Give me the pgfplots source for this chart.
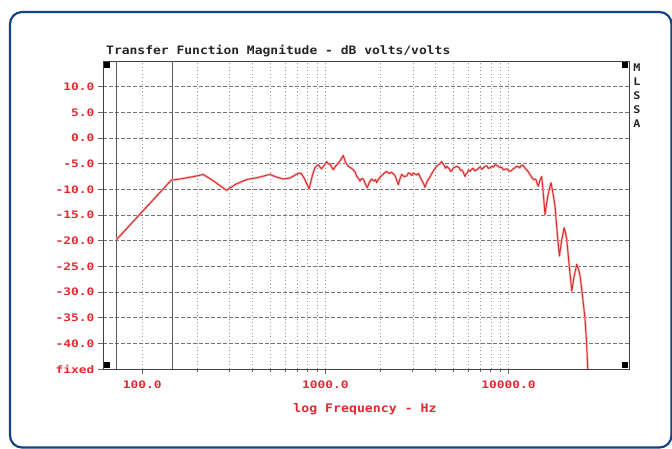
\documentclass[border=0pt]{standalone}
\usepackage{pgfplots}
\pgfplotsset{compat=1.18}
\usepackage{fontspec}
\setmainfont{DejaVu Sans Mono}
\newfontfamily\monofont[FakeStretch=1.12]{DejaVu Sans Mono}
\newfontfamily\tickfont[FakeStretch=1.25]{DejaVu Sans Mono}
\definecolor{frameblue}{RGB}{22,66,128}
\definecolor{lblred}{RGB}{228,40,48}
\definecolor{curvered}{RGB}{216,46,46}
\definecolor{halo}{RGB}{248,190,190}
\pgfplotstableread{
f db
72.3 -19.8
144 -8.2
160 -8.0
198 -7.4
215 -7.1
246 -8.4
288 -10.2
324 -9.0
371 -8.1
428 -7.7
497 -7.1
540 -7.6
588 -8.0
640 -7.8
700 -7.0
735 -6.8
770 -8.0
815 -9.9
850 -7.2
876 -5.8
914 -5.2
935 -5.7
953 -6.0
985 -5.3
1016 -4.6
1040 -5.1
1059 -5.0
1080 -5.6
1104 -6.2
1140 -5.4
1170 -5.0
1210 -4.3
1251 -3.4
1290 -4.8
1333 -5.5
1375 -5.8
1419 -6.2
1450 -6.6
1480 -7.4
1510 -7.8
1545 -8.4
1575 -7.9
1610 -8.0
1650 -8.9
1692 -9.7
1740 -8.6
1788 -8.0
1840 -8.4
1880 -8.1
1905 -8.7
1960 -7.9
2028 -7.3
2090 -6.9
2160 -6.5
2230 -6.9
2300 -6.7
2350 -7.0
2397 -7.3
2450 -8.2
2500 -9.1
2550 -8.0
2608 -7.1
2690 -7.5
2778 -7.4
2840 -6.8
2900 -6.9
2960 -7.3
3020 -6.8
3080 -7.0
3150 -7.2
3220 -6.9
3283 -7.5
3340 -8.1
3400 -8.6
3450 -9.0
3499 -9.6
3600 -8.4
3724 -7.6
3800 -7.0
3900 -6.3
4053 -5.5
4180 -5.1
4315 -4.6
4380 -5.0
4450 -5.3
4520 -5.9
4596 -5.5
4680 -5.8
4750 -6.0
4820 -6.5
4893 -6.4
4980 -5.9
5090 -5.7
5209 -5.5
5380 -5.8
5460 -6.3
5547 -6.2
5650 -6.6
5785 -7.5
5860 -7.0
5950 -6.8
6050 -6.2
6160 -6.5
6280 -6.1
6400 -5.9
6540 -6.4
6700 -6.2
6850 -5.9
7000 -5.6
7140 -6.1
7284 -5.8
7440 -5.5
7600 -5.4
7760 -5.9
7924 -5.8
8100 -5.5
8270 -5.7
8437 -5.2
8600 -5.3
8790 -5.5
9000 -5.8
9180 -5.7
9370 -6.2
9750 -6.0
10190 -6.5
10400 -6.3
10600 -6.0
10850 -5.8
11080 -5.5
11300 -5.6
11500 -5.8
11750 -5.3
12040 -5.4
12400 -6.0
12830 -6.6
13250 -7.4
13670 -8.1
14100 -8.0
14300 -8.8
14550 -9.4
14850 -8.2
15180 -7.5
15500 -11.0
15820 -14.9
16400 -11.2
17060 -8.7
17500 -10.8
17950 -13.3
18400 -18.0
18960 -23.0
19500 -20.0
20110 -17.5
20400 -18.2
20800 -19.8
21400 -24.5
22150 -29.8
22800 -27.0
23590 -24.6
24100 -25.5
24600 -26.9
25400 -31.0
26180 -35.3
26700 -40.0
27090 -45.0
}\curvedata
\begin{document}
\begin{tikzpicture}[x=1pt,y=1pt]
\useasboundingbox (0,0) rectangle (672,449);
\fill[white] (0,0) rectangle (672,449);
\draw[frameblue, line width=2.2pt, rounded corners=12pt] (10,437) rectangle (671.5,1.5);
\begin{axis}[
  at={(103pt,80pt)}, anchor=south west,
  width=526pt, height=308pt, scale only axis,
  xmode=log, xmin=61, xmax=45500,
  ymin=-45, ymax=15,
  axis line style={black!75, line width=0.8pt},
  tick align=outside, tick pos=left,
  major tick length=5pt, minor tick length=3pt,
  every tick/.style={black!60, line width=0.6pt},
  xtick={100,1000,10000},
  xticklabels={100.0,1000.0,10000.0},
  ytick={-45,-40,-35,-30,-25,-20,-15,-10,-5,0,5,10},
  yticklabels={fixed,-40.0,-35.0,-30.0,-25.0,-20.0,-15.0,-10.0,-5.0,0.0,5.0,10.0},
  ticklabel style={font=\tickfont\bfseries\fontsize{10.3}{12}\selectfont, text=lblred},
  xticklabel style={yshift=-3pt},
  /pgf/number format/assume math mode=true,
  xmajorgrids, xminorgrids, ymajorgrids,
  major x grid style={black!40, line width=0.5pt, dash pattern=on 1pt off 2.5pt},
  minor x grid style={black!40, line width=0.5pt, dash pattern=on 1pt off 2.5pt},
  major y grid style={black!55, line width=0.6pt, dash pattern=on 4pt off 2pt},
  clip=true,
]
\addplot[black!65, line width=0.7pt, forget plot] coordinates {(72.5,-45) (72.5,15)};
\addplot[black!65, line width=0.7pt, forget plot] coordinates {(145,-45) (145,15)};
\addplot[halo, line width=2.4pt, line join=round] table[x=f, y=db] {\curvedata};
\addplot[curvered, line width=1pt, line join=round] table[x=f, y=db] {\curvedata};
\fill[black] (rel axis cs:0,1) ++(1pt,-1pt) rectangle ++(6pt,-6pt);
\fill[black] (rel axis cs:1,1) ++(-1pt,-1pt) rectangle ++(-6pt,-6pt);
\fill[black] (rel axis cs:0,0) ++(1pt,1pt) rectangle ++(6pt,6pt);
\fill[black] (rel axis cs:1,0) ++(-1pt,1pt) rectangle ++(-6pt,6pt);
\end{axis}
\node[anchor=west, inner sep=0pt, font=\monofont\bfseries\fontsize{11.6}{12}\selectfont, text=black!85] at (106,398) {Transfer Function Magnitude - dB volts/volts};
\node[anchor=center, inner sep=0pt, font=\monofont\bfseries\fontsize{11.8}{12}\selectfont, text=lblred] at (365,40) {log Frequency - Hz};
\node[anchor=north, inner sep=0pt, align=center, font=\monofont\bfseries\fontsize{10.5}{14}\selectfont, text=black!85] at (637,385) {M\\L\\S\\S\\A};
\end{tikzpicture}
\end{document}
